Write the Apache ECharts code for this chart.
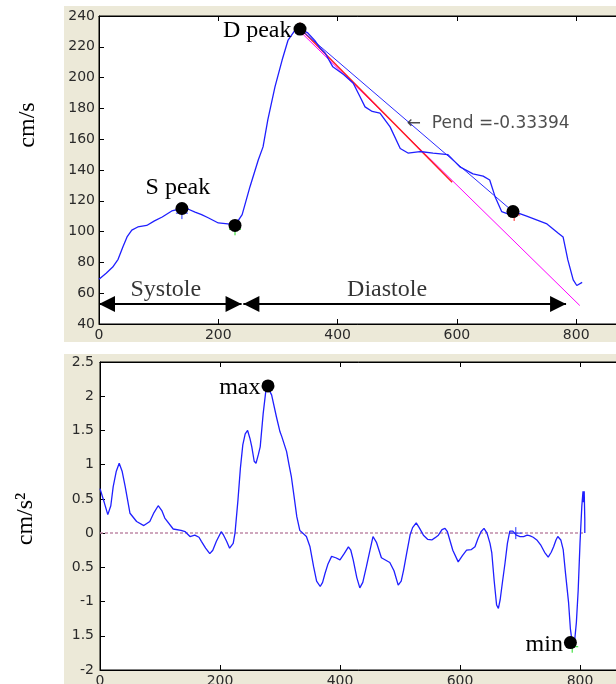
<!DOCTYPE html>
<html>
<head>
<meta charset="utf-8">
<script src="https://cdn.jsdelivr.net/npm/echarts@6/dist/echarts.min.js"></script>
<style>
html, body { margin: 0; padding: 0; background: #fff; }
#main { width: 616px; height: 684px; }
</style>
</head>
<body>
<div id="main"></div>
<script>
// velocity trace (cm/s)
var velocity = [
    [0, 69], [12, 73], [23, 77], [32, 82], [40, 90], [47, 96.5], [55, 101], [65, 103],
    [80, 104], [93, 107], [106, 109.5], [122, 113.4], [139, 115], [150, 114.5], [161, 112.7],
    [172, 111], [183, 109], [200, 105.6], [216, 105], [228, 104], [240, 111], [253, 129],
    [267, 146.5], [275, 155], [283, 172.5], [295, 194], [307, 211.4], [317, 224.4], [329, 231],
    [337, 231.6], [350, 229], [362, 224], [371, 219], [379, 216], [392, 207], [410, 202],
    [426, 196.5], [437, 188], [446, 181], [458, 178], [471, 177], [488, 168], [505, 154],
    [518, 151], [538, 152], [560, 151], [585, 150], [605, 142], [627, 137.5], [644, 136],
    [655, 133.5], [664, 122.7], [675, 113], [689, 111], [696, 113], [717, 110], [751, 105],
    [770, 99], [778, 96.5], [786, 81.6], [795, 68.6], [801, 65], [810, 67]
];

// fitted lines from the D peak
var slopeFit = [[337, 231.5], [694, 113]];
var magentaFit = [[337, 230], [806, 52]];
var redFit = [[337, 232], [592, 132]];

// acceleration trace (cm/s2)
var acceleration = [
    [0, 0.65], [7, 0.45], [13, 0.27], [18, 0.4], [22, 0.68], [27, 0.9], [32, 1.02], [37, 0.9],
    [42, 0.68], [50, 0.29], [61, 0.17], [73, 0.11], [83, 0.17], [90, 0.3], [97, 0.4],
    [103, 0.33], [108, 0.22], [122, 0.06], [135, 0.04], [142, 0.02], [150, -0.05], [158, -0.03],
    [165, -0.06], [169, -0.12], [176, -0.22], [183, -0.3], [188, -0.25], [194, -0.12],
    [202, 0.02], [206, -0.03], [211, -0.12], [216, -0.22], [219, -0.23], [222, -0.15],
    [225, 0], [230, 0.49], [234, 0.95], [238, 1.29], [242, 1.45], [246, 1.5], [250, 1.38],
    [253, 1.26], [257, 1.05], [260, 1.02], [264, 1.15], [267, 1.26], [272, 1.75], [276, 2.05],
    [279, 2.14], [282, 2.12], [286, 2.02], [294, 1.7], [300, 1.48], [303, 1.41], [311, 1.19],
    [315, 1.0], [319, 0.82], [324, 0.5], [328, 0.24], [333, 0.04], [336, 0.02], [344, -0.05],
    [350, -0.2], [356, -0.49], [361, -0.7], [367, -0.78], [371, -0.72], [375, -0.59],
    [380, -0.45], [386, -0.34], [393, -0.36], [400, -0.39], [407, -0.3], [414, -0.2],
    [418, -0.25], [422, -0.39], [428, -0.65], [433, -0.8], [438, -0.72], [444, -0.49],
    [450, -0.25], [455, -0.05], [461, -0.14], [469, -0.36], [483, -0.43], [490, -0.55],
    [497, -0.76], [502, -0.7], [506, -0.54], [511, -0.3], [517, -0.02], [521, 0.08],
    [527, 0.15], [532, 0.08], [539, -0.03], [546, -0.09], [553, -0.1], [558, -0.07],
    [564, -0.03], [570, 0.05], [575, 0.07], [579, 0.02], [583, -0.1], [588, -0.25],
    [597, -0.42], [604, -0.33], [611, -0.25], [619, -0.24], [625, -0.2], [630, -0.08],
    [635, 0.02], [640, 0.07], [645, 0.0], [650, -0.15], [653, -0.29], [657, -0.7],
    [661, -1.05], [664, -1.1], [667, -0.97], [671, -0.7], [675, -0.44], [679, -0.15],
    [683, 0.03], [688, 0.03], [694, -0.03], [700, -0.05], [706, -0.05], [712, -0.03],
    [717, -0.04], [722, -0.06], [728, -0.1], [735, -0.18], [741, -0.28], [747, -0.35],
    [752, -0.28], [756, -0.2], [760, -0.1], [763, -0.05], [768, -0.1], [772, -0.24],
    [776, -0.6], [781, -1.02], [784, -1.4], [787, -1.6], [791, -1.58], [794, -1.3],
    [797, -0.83], [800, -0.15], [803, 0.39], [805, 0.61], [806, 0.45], [807, 0.61],
    [808, 0.2], [808, 0.0]
];
var zeroLine = [[0, 0], [808, 0]];

// marked points: [x, y, text]
var velPoints = [[139, 115, 'S peak'], [228, 104, ''], [337, 231.5, 'D peak'], [694, 113, '']];
var accPoints = [[280, 2.15, 'max'], [784, -1.6, 'min']];

// little cross markers: [x, y, colour]
var velCrosses = [[139, 112, '#2233ff'], [228, 101.5, '#22dd22'], [337, 232, '#ff2222'], [696, 110.8, '#ff2222']];
var accCrosses = [[280, 2.15, '#ff2222'], [787, -1.66, '#22dd22'], [693, 0, '#2233ff']];

// phase arrows (tip to tip): [from, to, y]
var phaseArrows = [[0, 239, 53], [242, 783, 53]];
var phaseText = [[112, 62, 'Systole'], [483, 62, 'Diastole']];
var slopeText = [[516, 170, '\u2190  Pend =-0.33394']];

var velTicks = { min: 40, max: 240, step: 20 };
var accTickLabels = ['-2', '1.5', '-1', '0.5', '0', '0.5', '1', '1.5', '2', '2.5'];

var serif = 'Liberation Serif, Times New Roman, serif';
var tickLabel = { fontFamily: 'DejaVu Sans', fontSize: 14, color: '#2a2a2a' };

function xAxisPair(gridIndex) {
    var base = {
        gridIndex: gridIndex,
        type: 'value',
        min: 0,
        max: 1000,
        interval: 200,
        axisLine: { onZero: false, lineStyle: { color: '#000', width: 1 } },
        axisTick: { inside: true, length: 5, lineStyle: { color: '#000' } },
        splitLine: { show: false }
    };
    var bottom = Object.assign({}, base, {
        position: 'bottom',
        axisLabel: Object.assign({ margin: 4, formatter: '{value}' }, tickLabel)
    });
    var top = Object.assign({}, base, {
        position: 'top',
        axisLabel: { show: false }
    });
    return [bottom, top];
}

function crossSeries(list, xi, yi) {
    return list.map(function (c) {
        return {
            type: 'scatter',
            xAxisIndex: xi,
            yAxisIndex: yi,
            symbol: 'path://M0,6L12,6M6,0L6,12',
            symbolSize: 12,
            itemStyle: { color: 'transparent', borderColor: c[2], borderWidth: 1, opacity: 1 },
            data: [[c[0], c[1]]],
            z: 3
        };
    });
}

function dotSeries(list, xi, yi, labelPos) {
    return {
        type: 'scatter',
        xAxisIndex: xi,
        yAxisIndex: yi,
        symbolSize: 13,
        itemStyle: { color: '#000', opacity: 1 },
        z: 5,
        data: list.map(function (p) {
            var lp = labelPos[p[2]] || {};
            return {
                value: [p[0], p[1]],
                name: p[2],
                label: Object.assign({
                    show: p[2] !== '',
                    formatter: '{b}',
                    fontFamily: serif,
                    fontSize: 24,
                    color: '#000'
                }, lp)
            };
        })
    };
}

function textSeries(list, xi, yi, style) {
    return {
        type: 'scatter',
        xAxisIndex: xi,
        yAxisIndex: yi,
        symbolSize: 0,
        silent: true,
        z: 6,
        data: list.map(function (t) {
            return { value: [t[0], t[1]], name: t[2] };
        }),
        label: Object.assign({ show: true, formatter: '{b}' }, style)
    };
}

var lineStyleOf = function (color, width) {
    return { color: color, width: width };
};

var gridBox = { show: true, backgroundColor: '#fff', borderColor: '#000', borderWidth: 1, containLabel: false, outerBoundsMode: 'none' };

var option = {
    backgroundColor: '#ece9d8',
    animation: false,
    grid: [
        Object.assign({ left: 99, top: 16, width: 596.5, height: 308 }, gridBox),
        Object.assign({ left: 100, top: 362, width: 600, height: 308 }, gridBox)
    ],
    xAxis: xAxisPair(0).concat(xAxisPair(1)),
    yAxis: [
        {
            gridIndex: 0,
            type: 'value',
            min: velTicks.min,
            max: velTicks.max,
            interval: velTicks.step,
            axisLine: { onZero: false, lineStyle: { color: '#000' } },
            axisTick: { inside: true, length: 5, lineStyle: { color: '#000' } },
            axisLabel: Object.assign({ margin: 4 }, tickLabel),
            splitLine: { show: false }
        },
        {
            gridIndex: 1,
            type: 'value',
            min: -2,
            max: 2.5,
            interval: 0.5,
            axisLine: { onZero: false, lineStyle: { color: '#000' } },
            axisTick: { inside: true, length: 5, lineStyle: { color: '#000' } },
            axisLabel: Object.assign({
                margin: 6,
                formatter: function (v) {
                    return accTickLabels[Math.round((v + 2) / 0.5)];
                }
            }, tickLabel),
            splitLine: { show: false }
        }
    ],
    graphic: [
        // white page margins around the two figure panels
        { type: 'rect', shape: { x: 0, y: 0, width: 64, height: 684 }, style: { fill: '#fff' }, z: 100 },
        { type: 'rect', shape: { x: 0, y: 0, width: 616, height: 6 }, style: { fill: '#fff' }, z: 100 },
        { type: 'rect', shape: { x: 0, y: 342, width: 616, height: 12 }, style: { fill: '#fff' }, z: 100 },
        {
            type: 'text', x: 28, y: 125, rotation: Math.PI / 2, z: 101,
            style: { text: 'cm/s', font: '24px ' + serif, fill: '#000', align: 'center', verticalAlign: 'middle' }
        },
        {
            type: 'text', x: 26, y: 519, rotation: Math.PI / 2, z: 101,
            style: { text: 'cm/s\u00b2', font: '24px ' + serif, fill: '#000', align: 'center', verticalAlign: 'middle' }
        }
    ],
    series: [
        {
            type: 'line', xAxisIndex: 0, yAxisIndex: 0, symbol: 'none',
            lineStyle: lineStyleOf('#ff00ff', 1), data: magentaFit,
            markLine: {
                silent: true,
                symbol: ['triangle', 'triangle'],
                symbolSize: 16,
                symbolOffset: [[0, 8], [0, 8]],
                label: { show: false },
                lineStyle: { color: '#000', width: 2, type: 'solid' },
                data: phaseArrows.map(function (a) {
                    return [{ coord: [a[0], a[2]] }, { coord: [a[1], a[2]] }];
                })
            }
        },
        { type: 'line', xAxisIndex: 0, yAxisIndex: 0, symbol: 'none', lineStyle: lineStyleOf('#ff2020', 1.5), data: redFit },
        { type: 'line', xAxisIndex: 0, yAxisIndex: 0, symbol: 'none', lineStyle: lineStyleOf('#2a2aff', 1), data: slopeFit },
        { type: 'line', xAxisIndex: 0, yAxisIndex: 0, symbol: 'none', lineStyle: lineStyleOf('#1f1fff', 1.3), data: velocity, z: 4 },
        dotSeries(velPoints, 0, 0, {
            'S peak': { position: 'top', distance: 2, offset: [-4, 0] },
            'D peak': { position: 'left', distance: 2, offset: [0, 2] }
        }),
        textSeries(phaseText, 0, 0, { position: 'inside', fontFamily: serif, fontSize: 24, color: '#000' }),
        textSeries(slopeText, 0, 0, { position: 'right', distance: 0, fontFamily: 'DejaVu Sans', fontSize: 17, color: '#222' }),

        {
            type: 'line', xAxisIndex: 2, yAxisIndex: 1, symbol: 'none',
            lineStyle: { color: '#c08aa8', width: 1.5, type: [3, 2] }, data: zeroLine
        },
        { type: 'line', xAxisIndex: 2, yAxisIndex: 1, symbol: 'none', lineStyle: lineStyleOf('#1f1fff', 1.3), data: acceleration, z: 4 },
        dotSeries(accPoints, 2, 1, {
            'max': { position: 'left', distance: 1, offset: [0, 2] },
            'min': { position: 'left', distance: 1, offset: [0, 2] }
        })
    ].concat(crossSeries(velCrosses, 0, 0)).concat(crossSeries(accCrosses, 2, 1))
};

var myChart = echarts.init(document.getElementById('main'));
myChart.setOption(option);
</script>
</body>
</html>
